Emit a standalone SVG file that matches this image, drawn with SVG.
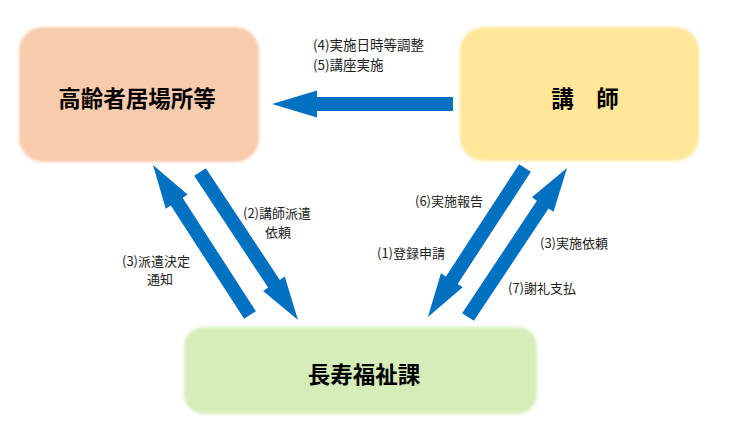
<svg xmlns="http://www.w3.org/2000/svg" width="750" height="438" viewBox="0 0 750 438">
<style>
.title{font-family:"Noto Sans CJK JP","Noto Sans",sans-serif;font-weight:bold;font-size:22.5px;fill:#000;text-anchor:middle;dominant-baseline:central}
.lbl{font-family:"Noto Sans CJK JP","Noto Sans",sans-serif;font-size:13px;fill:#222;dominant-baseline:central}
.lbl15{font-size:13.5px}
.arr{fill:#0070C0}
</style>
<defs>
<filter id="soft" x="-5%" y="-5%" width="110%" height="110%"><feGaussianBlur stdDeviation="1.8"/></filter>
</defs>
<rect width="750" height="438" fill="#fff"/>
<g id="node-koreisha">
<rect x="19" y="27" width="240" height="135" rx="24" fill="#F8CBAD" filter="url(#soft)"/>
<text class="title" x="137" y="97">高齢者居場所等</text>
</g>
<g id="node-koshi">
<rect x="460" y="27" width="239" height="134" rx="24" fill="#FFE699" filter="url(#soft)"/>
<text class="title" x="585" y="97" xml:space="preserve">講　師</text>
</g>
<g id="node-chojufukushi">
<rect x="184" y="327" width="353" height="87" rx="20" fill="#D5EDB9" filter="url(#soft)"/>
<text class="title" x="364" y="373">長寿福祉課</text>
</g>
<g id="connectors">
<path class="arr" transform="translate(453,104) rotate(180)" d="M0,-7 H136 V-13.5 L181,0 L136,13.5 V7 H0 Z"/>
<path class="arr" transform="translate(250,315) rotate(-122.9)" d="M0,-7 H135 V-13 L178.6,0 L135,13 V7 H0 Z"/>
<path class="arr" transform="translate(200,172) rotate(56.5)" d="M0,-7 H134 V-13 L177.5,0 L134,13 V7 H0 Z"/>
<path class="arr" transform="translate(525,168) rotate(123.1)" d="M0,-7 H134 V-13 L177.8,0 L134,13 V7 H0 Z"/>
<path class="arr" transform="translate(468,317) rotate(-56.4)" d="M0,-7 H135 V-13 L178.9,0 L135,13 V7 H0 Z"/>
<text class="lbl lbl15" x="313" y="44">(4)実施日時等調整</text>
<text class="lbl lbl15" x="313" y="64">(5)講座実施</text>
<text class="lbl" x="243" y="212">(2)講師派遣</text>
<text class="lbl" x="265" y="231">依頼</text>
<text class="lbl" x="122" y="260">(3)派遣決定</text>
<text class="lbl" x="147" y="278">通知</text>
<text class="lbl" x="415" y="200">(6)実施報告</text>
<text class="lbl" x="377" y="252">(1)登録申請</text>
<text class="lbl" x="540" y="242">(3)実施依頼</text>
<text class="lbl" x="508" y="287">(7)謝礼支払</text>
</g>
</svg>
